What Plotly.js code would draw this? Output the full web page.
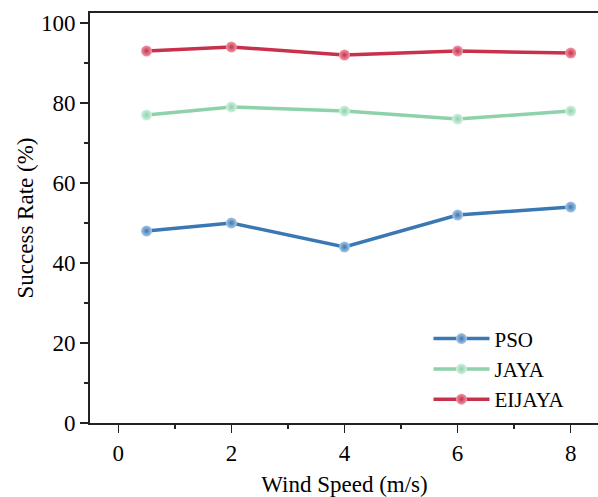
<!DOCTYPE html>
<html><head><meta charset="utf-8">
<script src="https://cdn.plot.ly/plotly-3.0.1.min.js"></script>
<style>html,body{margin:0;padding:0;overflow:hidden;background:#fff}</style>
</head><body><div id="chart" style="width:600px;height:497px"></div>
<script>
const windSpeed = [0.5, 2, 4, 6, 8];
const pso = [48, 50, 44, 52, 54];
const jaya = [77, 79, 78, 76, 78];
const eijaya = [93, 94, 92, 93, 92.5];
const names = ["PSO", "JAYA", "EIJAYA"];
const colors = ["#3a78b4", "#8ed2ab", "#c9304b"];
const tints = ["#a9c8e6", "#d4f0e0", "#ee9aa8"];
const series = [pso, jaya, eijaya];

const traces = series.map((ys, i) => ({
  x: windSpeed, y: ys, name: names[i], type: "scatter", mode: "lines+markers",
  line: {color: colors[i], width: 3.5},
  marker: {size: 11, color: tints[i], line: {width: 0},
           gradient: {type: "radial", color: colors[i]}}
}));

const font = {family: "Liberation Serif, Times New Roman, serif", size: 23, color: "#000"};
const layout = {
  width: 600, height: 497,
  margin: {l: 90, r: 1, t: 13, b: 74},
  paper_bgcolor: "#fff", plot_bgcolor: "#fff",
  font: font,
  showlegend: true,
  legend: {x: 0.665, y: 0.255, xanchor: "left", yanchor: "top", font: {family: font.family, size: 21, color: "#000"},
           bgcolor: "rgba(0,0,0,0)", tracegroupgap: 0, itemwidth: 56},
  xaxis: {
    range: [-0.5, 8.5], tickvals: [0, 2, 4, 6, 8], ticks: "outside", ticklen: 8, tickwidth: 1.5,
    tickcolor: "#222", showline: true, linecolor: "#222", linewidth: 2, mirror: true,
    showgrid: false, zeroline: false, tickfont: font,
    minor: {tickvals: [1, 3, 5, 7], ticks: "outside", ticklen: 4, tickwidth: 1.5, tickcolor: "#222", showgrid: false},
    title: {text: "Wind Speed (m/s)", font: font, standoff: 24}
  },
  yaxis: {
    range: [0, 102.5], tickvals: [0, 20, 40, 60, 80, 100], ticks: "outside", ticklen: 8, tickwidth: 1.5,
    tickcolor: "#222", showline: true, linecolor: "#222", linewidth: 2, mirror: true,
    showgrid: false, zeroline: false, tickfont: font,
    minor: {tickvals: [10, 30, 50, 70, 90], ticks: "outside", ticklen: 4, tickwidth: 1.5, tickcolor: "#222", showgrid: false},
    title: {text: "Success Rate (%)", font: font, standoff: 1}
  }
};
Plotly.newPlot("chart", traces, layout, {displayModeBar: false, staticPlot: true});
</script></body></html>
